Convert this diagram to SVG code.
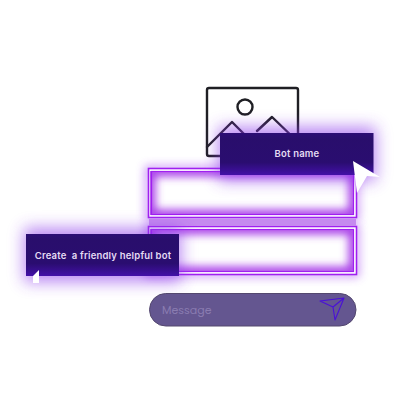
<svg xmlns="http://www.w3.org/2000/svg" width="416" height="414" viewBox="0 0 416 414">
<defs>
<filter id="glow" x="-30%" y="-120%" width="160%" height="340%"><feGaussianBlur stdDeviation="8"/></filter>
<filter id="outer" x="-20%" y="-60%" width="140%" height="220%"><feGaussianBlur stdDeviation="5"/></filter>
<filter id="inner" x="-20%" y="-50%" width="140%" height="200%"><feGaussianBlur stdDeviation="4"/></filter>
<linearGradient id="box" x1="0" y1="0" x2="0" y2="1"><stop offset="0" stop-color="#2c0d75"/><stop offset=".15" stop-color="#290e6c"/><stop offset=".7" stop-color="#2a0d70"/><stop offset="1" stop-color="#4310a8"/></linearGradient>
<clipPath id="c1"><rect x="150" y="171" width="204" height="44"/></clipPath>
<clipPath id="c2"><rect x="150" y="229" width="204" height="43"/></clipPath>
</defs>
<style>
.t{font-family:"Inter","DejaVu Sans",sans-serif;font-size:9.500px;font-weight:600;letter-spacing:.2px;fill:#e4dcf4;text-anchor:middle}
.ln{fill:none;stroke:#1f1f24;stroke-width:2.400;stroke-linejoin:round;stroke-linecap:round}
.halo{fill:#8a35ea;opacity:.6;filter:url(#glow)}
.out{fill:none;stroke:#a040f0;stroke-width:6;opacity:.6;filter:url(#outer)}
.in{fill:none;stroke:#a83ee8;stroke-width:11}
.fr{fill:none;stroke:#a020f0}
</style>
<rect width="416" height="414" fill="#fff"/>
<g id="image-icon">
<rect class="ln" x="207" y="88" width="91" height="68" rx="2"/>
<circle class="ln" cx="245" cy="107" r="7.500"/>
<path class="ln" d="M207 147L232 122L247 137M257 131L272 117L298 142"/>
</g>
<g id="field-1">
<rect class="out" x="148" y="169" width="208" height="48"/>
<rect x="148" y="169" width="208" height="48" fill="#fff"/>
<g clip-path="url(#c1)"><rect x="150" y="171" width="204" height="44" class="in" filter="url(#inner)"/></g>
<rect class="fr" x="148.500" y="168.500" width="208" height="49" stroke-width="1.600"/>
<rect class="fr" x="151.500" y="171.500" width="202" height="43" stroke-width="1.200"/>
</g>
<g id="field-2">
<rect class="out" x="148" y="227" width="208" height="47"/>
<rect x="148" y="227" width="208" height="47" fill="#fff"/>
<g clip-path="url(#c2)"><rect x="150" y="229" width="204" height="43" class="in" filter="url(#inner)"/></g>
<rect class="fr" x="148.500" y="226.500" width="208" height="48" stroke-width="1.600"/>
<rect class="fr" x="151.500" y="229.500" width="202" height="42" stroke-width="1.200"/>
</g>
<rect x="149" y="219" width="207" height="7" fill="#c58aef"/>
<g id="bot-name">
<rect class="halo" x="218" y="127" width="158" height="54"/>
<rect x="220" y="133" width="153.500" height="42" fill="url(#box)"/>
<text class="t" x="297" y="157">Bot name</text>
<path d="M353 161L380 177L367 176L357 193Z" fill="#fff"/>
</g>
<g id="prompt">
<rect class="halo" x="24" y="228" width="157" height="54"/>
<rect x="26" y="234" width="153" height="42" fill="url(#box)"/>
<text class="t" x="103" y="259" xml:space="preserve">Create  a friendly helpful bot</text>
<path d="M33 276L39 270V283H33Z" fill="#fff"/>
</g>
<g id="message">
<rect x="149.500" y="293.500" width="206.500" height="32.500" rx="16.200" fill="#645690" stroke="#54486f" stroke-width="1"/>
<text x="162" y="314" font-family="Poppins,'Noto Sans','Open Sans',sans-serif" font-size="11" fill="#8a7cb0">Message</text>
<path d="M320 301L344 298L335 320L333 307ZM333 307L344 298" fill="none" stroke="#4a10d8" stroke-width="1.100" stroke-linejoin="round"/>
</g>
</svg>
